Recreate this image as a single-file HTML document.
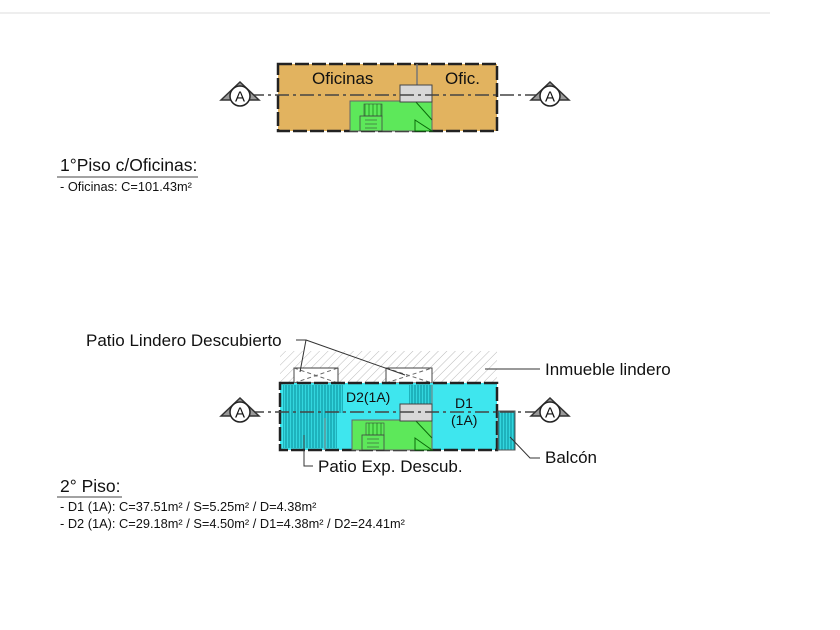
<!DOCTYPE html>
<html><head><meta charset="utf-8"><style>
body{margin:0;background:#fff;}
svg{display:block;font-family:"Liberation Sans",sans-serif;}
</style></head><body>
<svg width="840" height="630" viewBox="0 0 840 630" xmlns="http://www.w3.org/2000/svg">
<defs>
<pattern id="hat" width="6" height="6" patternUnits="userSpaceOnUse" patternTransform="rotate(45)">
<line x1="0" y1="0" x2="0" y2="6" stroke="#bbb" stroke-width="1"/></pattern>
<pattern id="vl" width="3" height="4" patternUnits="userSpaceOnUse">
<rect width="3" height="4" fill="#33d6de"/><line x1="1" y1="0" x2="1" y2="4" stroke="#0a8f9a" stroke-width="1"/></pattern>
<pattern id="st" width="4" height="4" patternUnits="userSpaceOnUse">
<rect width="4" height="4" fill="#5de85a"/><line x1="1" y1="0" x2="1" y2="4" stroke="#1a8a1a" stroke-width=".8"/></pattern>
<g id="mk"><path d="M-19 4 L0 -14 L19 4 Z" fill="#999" stroke="#333" stroke-width="1.5"/><circle cx="0" cy="0" r="10" fill="#fff" stroke="#222" stroke-width="1.5"/><text x="0" y="5.5" font-size="15" text-anchor="middle" fill="#111">A</text></g>
</defs>
<line x1="0" y1="13" x2="770" y2="13" stroke="#ddd"/>

<!-- Top plan -->
<rect x="278" y="64" width="219" height="67" fill="#e2b35f" stroke="#222" stroke-width="2.5" stroke-dasharray="14 3"/>
<line x1="417" y1="64" x2="417" y2="86" stroke="#777" stroke-width="1.5"/>
<rect x="350" y="101" width="82" height="30" fill="#5de85a" stroke="#666"/>
<rect x="364" y="104" width="18" height="12" fill="url(#st)" stroke="#444" stroke-width=".6"/>
<rect x="360" y="116" width="22" height="15" fill="none" stroke="#444" stroke-width=".8"/>
<path d="M365 120 h12 M365 124 h12 M365 128 h12" stroke="#333" stroke-width=".6"/>
<path d="M415 101 L432 120 M415 120 L432 131 L415 131 Z" stroke="#0a6b0a" fill="none"/>
<rect x="400" y="85" width="32" height="17" fill="#d8d8d8" stroke="#444"/>
<text x="312" y="84" font-size="17" fill="#111">Oficinas</text>
<text x="445" y="84" font-size="17" fill="#111">Ofic.</text>
<line x1="250" y1="95" x2="540" y2="95" stroke="#444" stroke-width="1.5" stroke-dasharray="14 4 3 4"/>
<use href="#mk" x="240" y="96"/><use href="#mk" x="550" y="96"/>

<text x="60" y="171" font-size="17.5" fill="#111">1°Piso c/Oficinas:</text>
<line x1="57" y1="177" x2="198" y2="177" stroke="#444"/>
<text x="60" y="191" font-size="12.8" fill="#111">- Oficinas: C=101.43m²</text>

<!-- Bottom plan -->
<rect x="280" y="351" width="217" height="32" fill="url(#hat)"/>
<g stroke="#444" fill="#fff" stroke-width="1"><rect x="294" y="368" width="44" height="15"/><rect x="386" y="368" width="46" height="15"/></g>
<path d="M294 368 L338 383 M294 383 L338 368 M386 368 L432 383 M386 383 L432 368" stroke="#666" stroke-dasharray="4 3"/>
<rect x="280" y="383" width="217" height="67" fill="#3ee6ee" stroke="#222" stroke-width="2.5" stroke-dasharray="14 3"/>
<rect x="283" y="385" width="54" height="63" fill="url(#vl)"/>
<rect x="337" y="385" width="6" height="28" fill="url(#vl)"/>
<rect x="409" y="385" width="23" height="20" fill="url(#vl)"/>
<line x1="325" y1="418" x2="325" y2="450" stroke="#777"/>
<line x1="432" y1="385" x2="432" y2="450" stroke="#777"/>
<rect x="498" y="411" width="17" height="39" fill="url(#vl)" stroke="#555"/>
<rect x="352" y="420" width="80" height="30" fill="#5de85a" stroke="#666"/>
<rect x="366" y="423" width="18" height="12" fill="url(#st)" stroke="#444" stroke-width=".6"/>
<rect x="362" y="435" width="22" height="15" fill="none" stroke="#444" stroke-width=".8"/>
<path d="M367 439 h12 M367 443 h12 M367 447 h12" stroke="#333" stroke-width=".6"/>
<path d="M415 420 L432 438 M415 438 L432 450 L415 450 Z" stroke="#0a6b0a" fill="none"/>
<rect x="400" y="404" width="32" height="17" fill="#d8d8d8" stroke="#444"/>
<text x="346" y="402" font-size="14" fill="#111">D2(1A)</text>
<text x="455" y="408" font-size="14" fill="#111">D1</text>
<text x="451" y="425" font-size="14" fill="#111">(1A)</text>
<line x1="250" y1="412" x2="540" y2="412" stroke="#444" stroke-width="1.5" stroke-dasharray="14 4 3 4"/>
<use href="#mk" x="240" y="412"/><use href="#mk" x="550" y="412"/>

<text x="86" y="346" font-size="17" fill="#111">Patio Lindero Descubierto</text>
<path d="M296 340 L306 340 L300 372 M306 340 L405 375" stroke="#333" fill="none"/>
<text x="545" y="375" font-size="17" fill="#111">Inmueble lindero</text>
<line x1="485" y1="369" x2="540" y2="369" stroke="#333"/>
<text x="545" y="463" font-size="17" fill="#111">Balcón</text>
<path d="M510 437 L530 458 L540 458" stroke="#333" fill="none"/>
<text x="318" y="472" font-size="17" fill="#111">Patio Exp. Descub.</text>
<path d="M304 435 L304 466 L313 466" stroke="#333" fill="none"/>

<text x="60" y="492" font-size="17.5" fill="#111">2° Piso:</text>
<line x1="57" y1="497" x2="122" y2="497" stroke="#444"/>
<text x="60" y="511" font-size="12.8" fill="#111">- D1 (1A): C=37.51m² / S=5.25m² / D=4.38m²</text>
<text x="60" y="528" font-size="12.8" fill="#111">- D2 (1A): C=29.18m² / S=4.50m² / D1=4.38m² / D2=24.41m²</text>
</svg>
</body></html>
